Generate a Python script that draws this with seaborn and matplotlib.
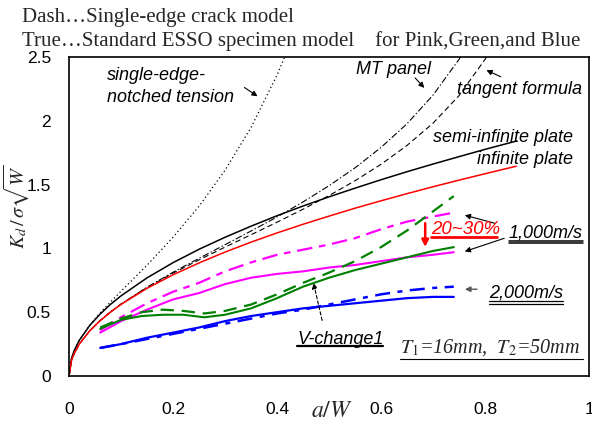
import matplotlib
matplotlib.use("Agg")
import matplotlib.pyplot as plt
from matplotlib.lines import Line2D
import seaborn as sns

# ---- theoretical curves (K_d / sigma sqrt(W) vs a/W) ----
theory_x = [0, 0.005, 0.01, 0.02, 0.04, 0.06, 0.08, 0.1, 0.15, 0.2, 0.25, 0.3,
            0.35, 0.4, 0.45, 0.5, 0.55, 0.6, 0.65, 0.7, 0.75, 0.8, 0.86]
infinite_plate = [0, 0.125, 0.177, 0.251, 0.355, 0.434, 0.501, 0.561, 0.687, 0.793,
                  0.886, 0.971, 1.049, 1.121, 1.189, 1.253, 1.315, 1.373, 1.429,
                  1.483, 1.535, 1.585, 1.644]
semi_infinite_plate = [0, 0.140, 0.199, 0.281, 0.397, 0.486, 0.562, 0.628, 0.769, 0.888,
                       0.993, 1.087, 1.174, 1.256, 1.332, 1.404, 1.472, 1.538, 1.601,
                       1.661, 1.719, 1.776, 1.841]

tangent_x = [0, 0.005, 0.01, 0.02, 0.04, 0.06, 0.08, 0.1, 0.15, 0.2, 0.25, 0.3,
             0.35, 0.4, 0.45, 0.5, 0.55, 0.6, 0.65, 0.7, 0.75, 0.8, 0.82]
tangent_formula = [0, 0.125, 0.177, 0.251, 0.355, 0.435, 0.503, 0.563, 0.693, 0.806,
                   0.910, 1.010, 1.107, 1.205, 1.307, 1.414, 1.530, 1.659, 1.807,
                   1.981, 2.197, 2.481, 2.610]

mt_x = [0, 0.005, 0.01, 0.02, 0.04, 0.06, 0.08, 0.1, 0.15, 0.2, 0.25, 0.3,
        0.35, 0.4, 0.45, 0.5, 0.55, 0.6, 0.65, 0.7, 0.75, 0.77]
mt_panel = [0, 0.125, 0.177, 0.251, 0.355, 0.435, 0.503, 0.564, 0.696, 0.813,
            0.922, 1.029, 1.136, 1.246, 1.364, 1.491, 1.631, 1.791, 1.977,
            2.201, 2.481, 2.616]

sent_x = [0, 0.005, 0.01, 0.02, 0.04, 0.06, 0.08, 0.1, 0.15, 0.2, 0.25, 0.3,
          0.35, 0.4, 0.42]
sent = [0, 0.140, 0.198, 0.281, 0.399, 0.495, 0.581, 0.664, 0.868, 1.087,
        1.330, 1.612, 1.947, 2.358, 2.551]

# ---- computed crack-propagation results ----
exp_x = [0.06, 0.1, 0.15, 0.2, 0.25, 0.3, 0.35, 0.4, 0.45, 0.5, 0.55, 0.6,
         0.65, 0.7, 0.74]
pink_true = [0.34, 0.43, 0.52, 0.60, 0.65, 0.72, 0.77, 0.80, 0.82, 0.85, 0.87,
             0.90, 0.93, 0.95, 0.97]
pink_dash = [0.36, 0.46, 0.57, 0.66, 0.73, 0.82, 0.89, 0.95, 0.99, 1.03, 1.08,
             1.15, 1.21, 1.25, 1.28]
blue_true = [0.22, 0.25, 0.30, 0.34, 0.38, 0.43, 0.47, 0.50, 0.53, 0.55, 0.57,
             0.59, 0.61, 0.62, 0.62]
blue_dash = [0.22, 0.25, 0.29, 0.33, 0.37, 0.41, 0.45, 0.49, 0.52, 0.56, 0.60,
             0.64, 0.67, 0.69, 0.70]

green_x = [0.06, 0.1, 0.14, 0.18, 0.22, 0.26, 0.3, 0.35, 0.4, 0.45, 0.5, 0.55,
           0.6, 0.65, 0.7, 0.74]
green_true = [0.37, 0.44, 0.47, 0.48, 0.48, 0.46, 0.48, 0.53, 0.61, 0.70, 0.77,
              0.83, 0.88, 0.93, 0.98, 1.01]
green_dash = [0.38, 0.45, 0.50, 0.52, 0.51, 0.49, 0.51, 0.56, 0.64, 0.73, 0.81,
              0.90, 1.01, 1.14, 1.29, 1.41]

x_ticks = [0, 0.2, 0.4, 0.6, 0.8, 1]
x_tick_labels = ["0", "0.2", "0.4", "0.6", "0.8", "1"]
y_ticks = [0, 0.5, 1, 1.5, 2, 2.5]
y_tick_labels = ["0", "0.5", "1", "1.5", "2", "2.5"]

sns.set_theme(style="white")
plt.rcParams["font.family"] = ["Liberation Sans", "DejaVu Sans"]
plt.rcParams["mathtext.fontset"] = "stix"

W, H = 592, 426
fig = plt.figure(figsize=(W / 100, H / 100), dpi=100)
ax = fig.add_axes([69 / W, 1 - 376 / H, 520 / W, 319 / H])


def fx(px):
    return px / W


def fy(py):
    return 1 - py / H


def line(x, y, color, lw, ls):
    sns.lineplot(x=x, y=y, ax=ax, color=color, linewidth=lw, linestyle=ls,
                 estimator=None, sort=False, legend=False)


# theory
line(sent_x, sent, "black", 0.9, (0, (1, 2.2)))
line(mt_x, mt_panel, "black", 0.8, (0, (6, 2, 1.2, 2)))
line(tangent_x, tangent_formula, "black", 0.8, (0, (5, 3)))
line(theory_x, semi_infinite_plate, "black", 1.1, "-")
line(theory_x, infinite_plate, "#ff0000", 1.1, "-")

# results
line(exp_x, pink_dash, "#ff00ff", 1.6, (0, (7, 3, 3, 3)))
line(exp_x, pink_true, "#ff00ff", 1.5, "-")
line(green_x, green_dash, "#008000", 1.6, (0, (6, 3.5)))
line(green_x, green_true, "#008000", 1.5, "-")
line(exp_x, blue_dash, "#0000ff", 1.8, (0, (6, 3, 2, 3)))
line(exp_x, blue_true, "#0000ff", 1.6, "-")

ax.set_xlim(0, 1)
ax.set_ylim(0, 2.5)
ax.set_xticks(x_ticks)
ax.set_xticklabels(x_tick_labels)
ax.set_yticks(y_ticks)
ax.set_yticklabels(y_tick_labels)
ax.tick_params(direction="in", length=5, width=1, colors="black",
               labelsize=12.5, top=False, right=False)
ax.tick_params(axis="x", pad=19)
ax.tick_params(axis="y", pad=13)
for s in ax.spines.values():
    s.set_color("black")
    s.set_linewidth(1.2)
ax.set_xlabel("")
ax.set_ylabel("")

# axis titles
fig.text(fx(332), fy(411), r"$a/W$", fontsize=17, ha="center", va="center")
fig.text(fx(16), fy(207), r"$K_d\,/\,\sigma\sqrt{W}$", fontsize=14.5,
         rotation=90, ha="center", va="center")

# header lines
serif = ["Liberation Serif", "DejaVu Serif"]
fig.text(fx(22), fy(22), "Dash\u2026Single-edge crack model", family=serif,
         fontsize=15, ha="left", va="baseline")
fig.text(fx(22), fy(46),
         "True\u2026Standard ESSO specimen model    for Pink,Green,and Blue",
         family=serif, fontsize=15, ha="left", va="baseline")

# curve labels
lab = dict(style="italic", fontsize=13, ha="left", va="center", color="black")
fig.text(fx(107), fy(75), "single-edge-", **lab)
fig.text(fx(107), fy(97), "notched tension", **lab)
fig.text(fx(356), fy(69), "MT panel", **lab)
fig.text(fx(457), fy(89), "tangent formula", **lab)
fig.text(fx(433), fy(137), "semi-infinite plate", **lab)
fig.text(fx(477), fy(160), "infinite plate", **lab)
fig.text(fx(509), fy(233), "1,000m/s", **lab)
fig.text(fx(489), fy(293), "2,000m/s", **lab)
fig.text(fx(297), fy(339), "V-change1", **lab)
fig.text(fx(431), fy(229), "20~30%", style="italic", fontsize=13.5,
         ha="left", va="center", color="#ff0000")
fig.text(fx(400), fy(348), r"$T_1$=16mm,  $T_2$=50mm", family=serif,
         style="italic", fontsize=14.5, ha="left", va="center")


def underline(x0, x1, y, color="black", lw=1.0):
    fig.add_artist(Line2D([fx(x0), fx(x1)], [fy(y), fy(y)],
                          transform=fig.transFigure, color=color, lw=lw))


underline(509, 583, 240.5, lw=1.1)
underline(509, 583, 242.6, lw=1.1)
underline(489, 563, 300.5, lw=0.9)
underline(489, 563, 303.5, lw=0.9)
underline(431, 497, 237, color="#ff0000", lw=2.0)
underline(297, 383, 346, lw=1.6)
underline(400, 583, 359, lw=0.8)

# pointer arrows
arr = dict(arrowstyle="-|>", color="black", lw=0.8, mutation_scale=8)
ax.annotate("", xy=(0.367, 2.18), xytext=(0.333, 2.273), arrowprops=arr)
ax.annotate("", xy=(0.687, 2.242), xytext=(0.662, 2.352), arrowprops=arr)
ax.annotate("", xy=(0.798, 2.406), xytext=(0.835, 2.336), arrowprops=arr)
ax.annotate("", xy=(0.756, 1.266), xytext=(0.825, 1.19), arrowprops=arr)
ax.annotate("", xy=(0.756, 0.969), xytext=(0.842, 1.086), arrowprops=arr)
ax.annotate("", xy=(0.756, 0.68), xytext=(0.79, 0.68),
            arrowprops=dict(arrowstyle="-|>", color="#555555", lw=1.0,
                            mutation_scale=8))
ax.annotate("", xy=(0.469, 0.75), xytext=(0.488, 0.414),
            arrowprops=dict(arrowstyle="-|>", color="black", lw=0.8,
                            linestyle=(0, (3, 2)), mutation_scale=8))
ax.annotate("", xy=(0.685, 0.99), xytext=(0.685, 1.22),
            arrowprops=dict(arrowstyle="-|>", color="#ff0000", lw=1.8,
                            mutation_scale=10))

fig.savefig("out.png", dpi=100)
